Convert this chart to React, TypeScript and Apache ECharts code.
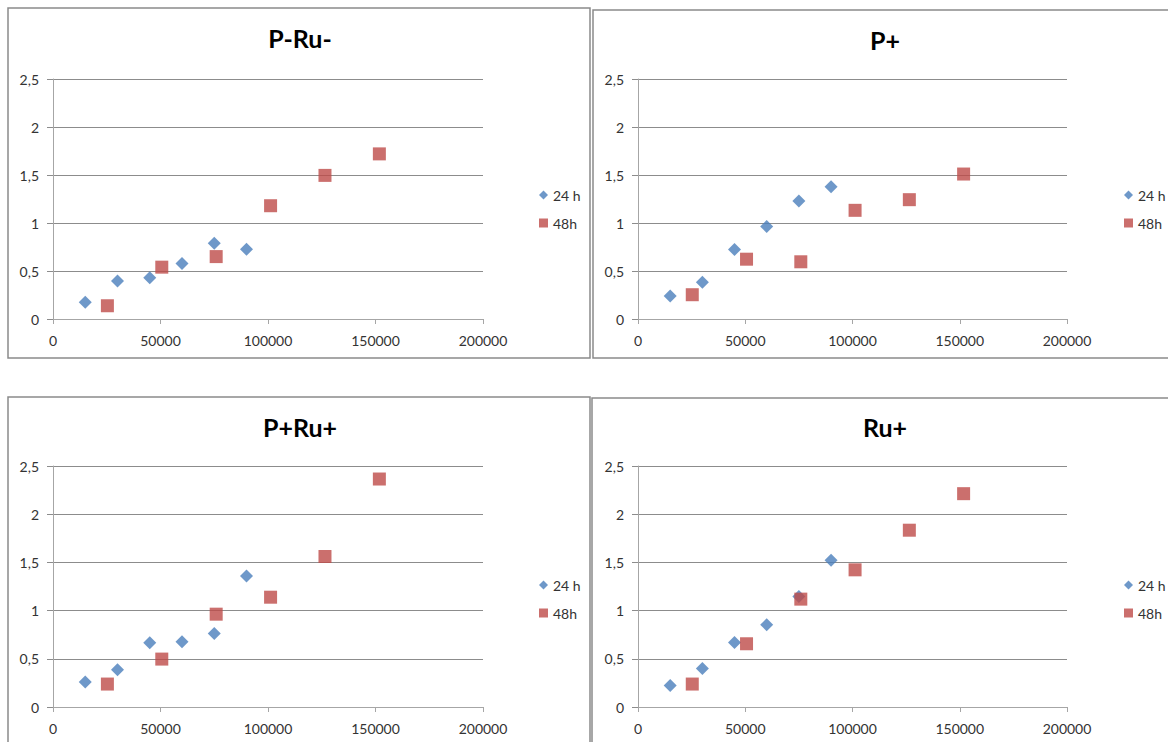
import React, { useEffect, useRef } from "react";
import * as echarts from "echarts";

// Concentration (x) against absorbance (y), two incubation times per treatment
const xTicks = [0, 50000, 100000, 150000, 200000];
const yTicks = [0, 0.5, 1, 1.5, 2, 2.5];

const x24h = [15000, 30000, 45000, 60000, 75000, 90000];
const x48h = [25300, 50600, 75900, 101200, 126500, 151800];

const titles = ["P-Ru-", "P+", "P+Ru+", "Ru+"];

const pRuMinus24 = [0.175, 0.395, 0.43, 0.578, 0.79, 0.726];
const pRuMinus48 = [0.138, 0.54, 0.65, 1.18, 1.496, 1.72];

const pPlus24 = [0.239, 0.384, 0.724, 0.963, 1.229, 1.378];
const pPlus48 = [0.253, 0.623, 0.596, 1.132, 1.243, 1.51];

const pRuPlus24 = [0.259, 0.387, 0.666, 0.677, 0.763, 1.36];
const pRuPlus48 = [0.238, 0.497, 0.963, 1.139, 1.561, 2.365];

const ruPlus24 = [0.224, 0.4, 0.67, 0.853, 1.146, 1.523];
const ruPlus48 = [0.238, 0.656, 1.119, 1.423, 1.834, 2.213];

const values24 = [pRuMinus24, pPlus24, pRuPlus24, ruPlus24];
const values48 = [pRuMinus48, pPlus48, pRuPlus48, ruPlus48];

// Panel frames and plot areas in page pixels
const frames = [
  { x: 8, y: 8, w: 582, h: 350 },
  { x: 593, y: 10, w: 600, h: 348 },
  { x: 8, y: 397, w: 582, h: 400 },
  { x: 592, y: 398, w: 600, h: 400 },
];
const plots = [
  { left: 53, top: 79, width: 430, height: 240 },
  { left: 638, top: 79, width: 429, height: 240 },
  { left: 53, top: 466, width: 430, height: 241 },
  { left: 638, top: 466, width: 429, height: 241 },
];
const titlePos = [
  { x: 300, y: 38 },
  { x: 885, y: 40 },
  { x: 300, y: 427 },
  { x: 885, y: 427 },
];
const legendPos = [
  { left: 534, top: 183 },
  { left: 1119, top: 183 },
  { left: 534, top: 573 },
  { left: 1119, top: 573 },
];

const BLUE = "#4A7EBB";
const RED = "#BE4B48";
const FONT = "Lato, 'Open Sans', sans-serif";

export default function App() {
  const ref = useRef<HTMLDivElement>(null);

  useEffect(() => {
    if (!ref.current) return;
    const chart = echarts.init(ref.current, undefined, { renderer: "svg" });

    const grid = plots.map((p) => ({ ...p, containLabel: false }));

    const xAxis = plots.map((_, i) => ({
      type: "value" as const,
      gridIndex: i,
      min: xTicks[0],
      max: xTicks[xTicks.length - 1],
      interval: xTicks[1] - xTicks[0],
      axisLine: { show: true, lineStyle: { color: "#A6A6A6", width: 1 } },
      axisTick: { show: true, inside: false, length: 5, lineStyle: { color: "#A6A6A6" } },
      splitLine: { show: false },
      axisLabel: {
        margin: 14,
        color: "#333333",
        fontFamily: FONT,
        fontSize: 14,
        formatter: (v: number) => String(v),
      },
    }));

    const yAxis = plots.map((_, i) => ({
      type: "value" as const,
      gridIndex: i,
      min: yTicks[0],
      max: yTicks[yTicks.length - 1],
      interval: yTicks[1] - yTicks[0],
      axisLine: { show: true, lineStyle: { color: "#A6A6A6", width: 1 } },
      axisTick: { show: true, inside: false, length: 6, lineStyle: { color: "#8C8C8C" } },
      splitLine: { show: true, lineStyle: { color: "#8C8C8C", width: 1 } },
      axisLabel: {
        margin: 14,
        color: "#333333",
        fontFamily: FONT,
        fontSize: 14,
        formatter: (v: number) => String(v).replace(".", ","),
      },
    }));

    const series: any[] = [];
    plots.forEach((_, i) => {
      series.push({
        type: "scatter",
        name: "24 h",
        xAxisIndex: i,
        yAxisIndex: i,
        symbol: "diamond",
        symbolSize: 13,
        itemStyle: { color: BLUE },
        data: x24h.map((x, k) => [x, values24[i][k]]),
      });
      series.push({
        type: "scatter",
        name: "48h",
        xAxisIndex: i,
        yAxisIndex: i,
        symbol: "rect",
        symbolSize: 13,
        itemStyle: { color: RED },
        data: x48h.map((x, k) => [x, values48[i][k]]),
      });
    });

    const legend = legendPos.map((p) => ({
      orient: "vertical" as const,
      left: p.left,
      top: p.top,
      itemWidth: 9,
      itemHeight: 9,
      itemGap: 14,
      selectedMode: false,
      textStyle: { fontFamily: FONT, fontSize: 14, color: "#333333" },
      data: [
        { name: "24 h", icon: "diamond" },
        { name: "48h", icon: "rect" },
      ],
    }));

    const graphic: any[] = [];
    frames.forEach((f) => {
      graphic.push({
        type: "rect",
        silent: true,
        z: -10,
        shape: { x: f.x, y: f.y, width: f.w, height: f.h },
        style: { fill: "none", stroke: "#8A8A8A", lineWidth: 1.5 },
      });
    });
    titles.forEach((t, i) => {
      graphic.push({
        type: "text",
        x: titlePos[i].x,
        y: titlePos[i].y,
        style: {
          text: t,
          font: `bold 25px ${FONT}`,
          fill: "#000000",
          textAlign: "center",
          textVerticalAlign: "middle",
          align: "center",
          verticalAlign: "middle",
        },
      });
    });

    chart.setOption({
      animation: false,
      backgroundColor: "#ffffff",
      grid,
      xAxis,
      yAxis,
      legend,
      series,
      graphic,
    });

    return () => chart.dispose();
  }, []);

  return (
    <div
      ref={ref}
      style={{ position: "absolute", left: 0, top: 0, width: 1168, height: 742 }}
    />
  );
}
